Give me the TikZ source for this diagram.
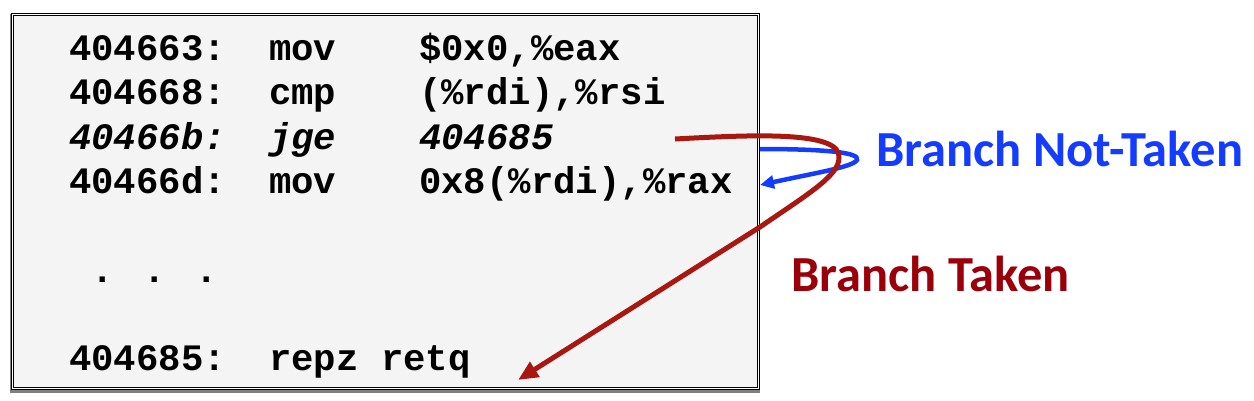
\documentclass[tikz,border=0pt]{standalone}
\usepackage{fontspec}
\newfontfamily\codefont{Liberation Mono}
\newfontfamily\labelfont{Carlito}
\usetikzlibrary{arrows.meta}
\definecolor{takenred}{RGB}{168,24,16}
\definecolor{takentext}{RGB}{153,0,10}
\definecolor{notblue}{RGB}{20,60,255}
\definecolor{boxgray}{RGB}{244,244,244}

\begin{document}
\begin{tikzpicture}[x=1pt, y=-1pt,
    asm/.style={anchor=base west, inner sep=0pt, font=\codefont\bfseries\fontsize{37.3}{44}\selectfont},
    jump/.style={asm, font=\codefont\bfseries\itshape\fontsize{37.3}{44}\selectfont},
    branchlabel/.style={anchor=base west, inner sep=0pt, font=\labelfont\bfseries\fontsize{50.5}{58}\selectfont}]
    \useasboundingbox (0,0) rectangle (1254,400);

    % code box
    \fill[boxgray] (12,14) rectangle (758,389);
    \draw[black!50, line width=3pt] (11,14) -- (11,391) -- (760,391);
    \draw[double, double distance=1.2pt, line width=0.7pt] (12.5,14.5) rectangle (758.5,388.5);

    \node[asm] (A1) at (69,60) {404663:};
    \node[asm] (M1) at (269,60) {mov};
    \node[asm] (O1) at (419,60) {\$0x0,\%eax};
    \node[asm] (A2) at (69,104.5) {404668:};
    \node[asm] (M2) at (269,104.5) {cmp};
    \node[asm] (O2) at (419,104.5) {(\%rdi),\%rsi};
    \node[jump] (A3) at (69,149) {40466b:};
    \node[jump] (M3) at (269,149) {jge};
    \node[jump] (O3) at (419,149) {404685};
    \node[asm] (A4) at (69,193.5) {40466d:};
    \node[asm] (M4) at (269,193.5) {mov};
    \node[asm] (O4) at (419,193.5) {0x8(\%rdi),\%rax};
    \node[asm] (D) at (91,282) {. . .};
    \node[asm] (A8) at (69,370) {404685:};
    \node[asm] (M8) at (269,370) {repz retq};

    \node[branchlabel, text=notblue] (NL) at (876,166) {Branch Not-Taken};
    \node[branchlabel, text=takentext] (TL) at (791,291) {Branch Taken};

    \coordinate (JS) at (675,139);
    \coordinate (JT) at (518,380);
    \coordinate (NS) at (760,149);
    \coordinate (NT) at (760,185);

    \draw[notblue, line width=4.5pt, -{Triangle[length=14pt,width=13pt]}]
      (NS) .. controls (820,149) and (861,152) .. (857,160)
           .. controls (853,167) and (815,173) .. (NT);
    \draw[takenred, line width=5pt, -{Triangle[length=20pt,width=17pt]}]
      (JS) .. controls (750,135) and (842,130) .. (839,158)
           .. controls (839,176) and (805,196) .. (760,227) -- (JT);
  \end{tikzpicture}
\end{document}
